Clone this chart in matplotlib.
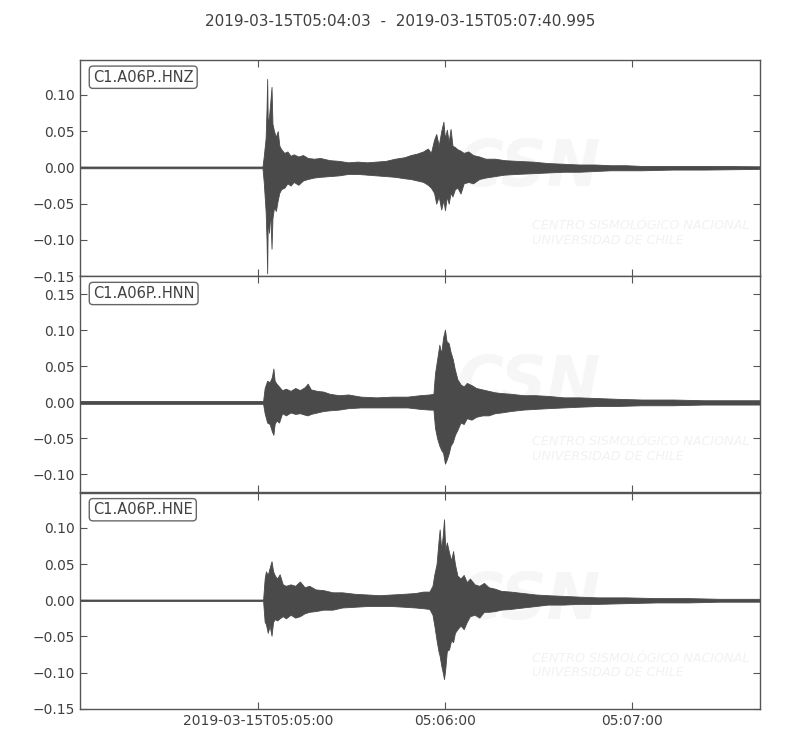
import matplotlib
matplotlib.use("Agg")
import matplotlib.pyplot as plt
import numpy as np

# time axis: seconds after 2019-03-15T05:04:03
t_end = 217.995
tick_secs = [57, 117, 177]
tick_labels = ["2019-03-15T05:05:00", "05:06:00", "05:07:00"]
title = "2019-03-15T05:04:03  -  2019-03-15T05:07:40.995"

channels = ["C1.A06P..HNZ", "C1.A06P..HNN", "C1.A06P..HNE"]

# envelope of each trace (time s, upper, lower)
hnz_t = [0, 58.5, 58.9, 59.5, 59.8, 60.0, 60.2, 60.6, 61.0, 61.4, 61.7, 62.2, 62.8, 63.4,
         63.9, 64.5, 65.5, 66.5, 67.5, 68.5, 70, 71.5, 73, 75, 77, 80, 83, 86, 89, 92, 95,
         98, 101, 104, 106, 108, 110, 111.5, 112.5, 113.5, 114.2, 115, 115.8, 116.5, 117,
         117.6, 118.2, 118.8, 119.4, 120.2, 121, 122, 123, 124.5, 126, 128, 130, 133, 136,
         140, 145, 150, 155, 160, 165, 170, 175, 180, 190, 200, 210, 218]
hnz_up = [0.0012, 0.0012, 0.015, 0.04, 0.08, 0.122, 0.06, 0.07, 0.09, 0.111, 0.06, 0.05,
          0.042, 0.05, 0.03, 0.025, 0.02, 0.022, 0.016, 0.018, 0.015, 0.017, 0.013, 0.012,
          0.013, 0.01, 0.009, 0.007, 0.008, 0.007, 0.008, 0.009, 0.012, 0.014, 0.017, 0.019,
          0.022, 0.026, 0.02, 0.038, 0.046, 0.03, 0.05, 0.063, 0.04, 0.052, 0.035, 0.053,
          0.03, 0.028, 0.025, 0.023, 0.02, 0.022, 0.017, 0.015, 0.012, 0.012, 0.01, 0.009,
          0.008, 0.006, 0.005, 0.004, 0.004, 0.003, 0.003, 0.002, 0.002, 0.002, 0.0018, 0.0015]
hnz_lo = [-0.0012, -0.0012, -0.02, -0.06, -0.10, -0.146, -0.07, -0.09, -0.06, -0.112, -0.07,
          -0.055, -0.06, -0.045, -0.035, -0.03, -0.028, -0.022, -0.025, -0.02, -0.024, -0.018,
          -0.016, -0.014, -0.013, -0.012, -0.011, -0.009, -0.009, -0.010, -0.011, -0.012,
          -0.013, -0.015, -0.016, -0.018, -0.02, -0.024, -0.028, -0.035, -0.05, -0.04, -0.058,
          -0.045, -0.059, -0.04, -0.05, -0.035, -0.04, -0.03, -0.028, -0.036, -0.022, -0.02,
          -0.022, -0.016, -0.014, -0.012, -0.01, -0.009, -0.008, -0.007, -0.006, -0.006,
          -0.005, -0.004, -0.004, -0.004, -0.003, -0.003, -0.0025, -0.002]

hnn_t = [0, 58.7, 59.2, 60.0, 60.8, 61.5, 62.0, 62.4, 63.0, 63.8, 64.8, 66, 67.5, 69, 70.5,
         72, 73, 74, 76, 78, 80, 83, 86, 90, 95, 100, 105, 109, 112, 113.3, 113.8, 114.5,
         115.2, 115.8, 116.4, 117.0, 117.5, 118.2, 118.8, 119.5, 120.2, 121, 122, 123, 124,
         125.5, 127, 129, 131, 133, 135, 138, 142, 146, 150, 155, 160, 166, 172, 180, 190,
         200, 210, 218]
hnn_up = [0.002, 0.002, 0.02, 0.03, 0.028, 0.035, 0.047, 0.03, 0.026, 0.022, 0.017, 0.019,
          0.016, 0.02, 0.017, 0.021, 0.026, 0.018, 0.016, 0.015, 0.012, 0.01, 0.011, 0.008,
          0.007, 0.008, 0.008, 0.01, 0.011, 0.012, 0.04, 0.06, 0.08, 0.068, 0.09, 0.101,
          0.085, 0.082, 0.07, 0.06, 0.045, 0.032, 0.025, 0.022, 0.027, 0.024, 0.02, 0.018,
          0.016, 0.014, 0.013, 0.012, 0.01, 0.01, 0.009, 0.007, 0.007, 0.006, 0.005, 0.004,
          0.004, 0.003, 0.003, 0.003]
hnn_lo = [-0.002, -0.002, -0.015, -0.028, -0.03, -0.04, -0.045, -0.03, -0.025, -0.028,
          -0.015, -0.018, -0.014, -0.016, -0.015, -0.017, -0.018, -0.016, -0.014, -0.012,
          -0.011, -0.01, -0.008, -0.007, -0.007, -0.007, -0.007, -0.009, -0.01, -0.01,
          -0.035, -0.05, -0.06, -0.066, -0.07, -0.085, -0.08, -0.071, -0.06, -0.055, -0.045,
          -0.038, -0.028, -0.03, -0.022, -0.024, -0.02, -0.018, -0.018, -0.015, -0.014,
          -0.012, -0.01, -0.009, -0.008, -0.007, -0.006, -0.005, -0.005, -0.004, -0.004,
          -0.003, -0.003, -0.003]

hne_t = [0, 58.7, 59.2, 59.6, 60.2, 60.8, 61.4, 61.9, 62.5, 63.2, 64, 65, 66, 67.5, 69,
         70.5, 72, 73.5, 75.5, 78, 81, 84, 88, 92, 96, 100, 104, 107.5, 110, 112, 113, 113.6,
         114.3, 114.9, 115.3, 115.8, 116.3, 116.7, 117.1, 117.6, 118.3, 119.0, 119.6, 120.2,
         121, 122, 123, 124, 125, 126.5, 128, 129.5, 131, 133, 135, 138, 142, 146, 150, 155,
         160, 166, 175, 185, 195, 205, 218]
hne_up = [0.001, 0.001, 0.03, 0.04, 0.035, 0.045, 0.054, 0.04, 0.034, 0.03, 0.036, 0.022,
          0.02, 0.022, 0.02, 0.026, 0.018, 0.02, 0.015, 0.014, 0.011, 0.011, 0.009, 0.008,
          0.007, 0.008, 0.009, 0.01, 0.012, 0.012, 0.02, 0.036, 0.05, 0.08, 0.098, 0.07,
          0.09, 0.112, 0.07, 0.08, 0.066, 0.055, 0.068, 0.05, 0.034, 0.03, 0.035, 0.025,
          0.03, 0.022, 0.02, 0.024, 0.018, 0.016, 0.013, 0.012, 0.01, 0.008, 0.007, 0.006,
          0.005, 0.004, 0.004, 0.003, 0.003, 0.002, 0.002]
hne_lo = [-0.001, -0.001, -0.03, -0.033, -0.045, -0.035, -0.049, -0.03, -0.026, -0.028,
          -0.025, -0.022, -0.025, -0.02, -0.024, -0.022, -0.018, -0.016, -0.015, -0.013,
          -0.013, -0.01, -0.009, -0.008, -0.008, -0.008, -0.009, -0.01, -0.011, -0.012,
          -0.02, -0.035, -0.055, -0.07, -0.077, -0.09, -0.1, -0.109, -0.095, -0.07, -0.068,
          -0.055, -0.058, -0.045, -0.04, -0.035, -0.04, -0.03, -0.022, -0.02, -0.024, -0.016,
          -0.016, -0.015, -0.013, -0.012, -0.01, -0.008, -0.006, -0.006, -0.005, -0.005,
          -0.004, -0.003, -0.003, -0.002, -0.002]

traces = [(hnz_t, hnz_up, hnz_lo), (hnn_t, hnn_up, hnn_lo), (hne_t, hne_up, hne_lo)]
ylims = [(-0.15, 0.148), (-0.125, 0.175), (-0.15, 0.149)]
yticks = [[-0.15, -0.10, -0.05, 0.0, 0.05, 0.10],
          [-0.10, -0.05, 0.0, 0.05, 0.10, 0.15],
          [-0.15, -0.10, -0.05, 0.0, 0.05, 0.10]]

trace_color = "#4a4a4a"
text_color = "#404040"

fig, axes = plt.subplots(3, 1, figsize=(8, 7.5), dpi=100, sharex=True)
fig.subplots_adjust(left=0.1, right=0.95, bottom=0.055, top=0.92, hspace=0)

for i, ax in enumerate(axes):
    t, up, lo = traces[i]
    ax.fill_between(t, lo, up, color=trace_color, linewidth=0.6, edgecolor=trace_color, zorder=2)
    ax.set_xlim(0, t_end)
    ax.set_ylim(*ylims[i])
    ax.set_yticks(yticks[i])
    ax.set_xticks(tick_secs)
    ax.tick_params(direction="in", top=True, right=True, length=5, width=0.8,
                   colors="#555555", labelcolor=text_color, labelsize=10)
    for sp in ax.spines.values():
        sp.set_color("#555555")
        sp.set_linewidth(1.0)
    ax.text(0.019, 0.955, channels[i], transform=ax.transAxes, fontsize=10.5, color=text_color,
            ha="left", va="top",
            bbox=dict(boxstyle="round,pad=0.25", facecolor="white", edgecolor="#666666", linewidth=1))
    # faint CSN watermark
    ax.text(0.66, 0.5, "CSN", transform=ax.transAxes, fontsize=46, fontstyle="italic",
            fontweight="bold", color="#f6f6f6", ha="center", va="center", zorder=1)
    ax.text(0.665, 0.2, "CENTRO SISMOLÓGICO NACIONAL\nUNIVERSIDAD DE CHILE",
            transform=ax.transAxes, fontsize=9.2, fontstyle="italic", color="#f2f2f2",
            ha="left", va="center", linespacing=1.2, zorder=1)

axes[-1].set_xticklabels(tick_labels)
for ax in axes[:-1]:
    ax.tick_params(labelbottom=False)

fig.text(0.5, 0.972, title, ha="center", va="center", fontsize=11, color=text_color)

fig.savefig("out.png", dpi=100)
